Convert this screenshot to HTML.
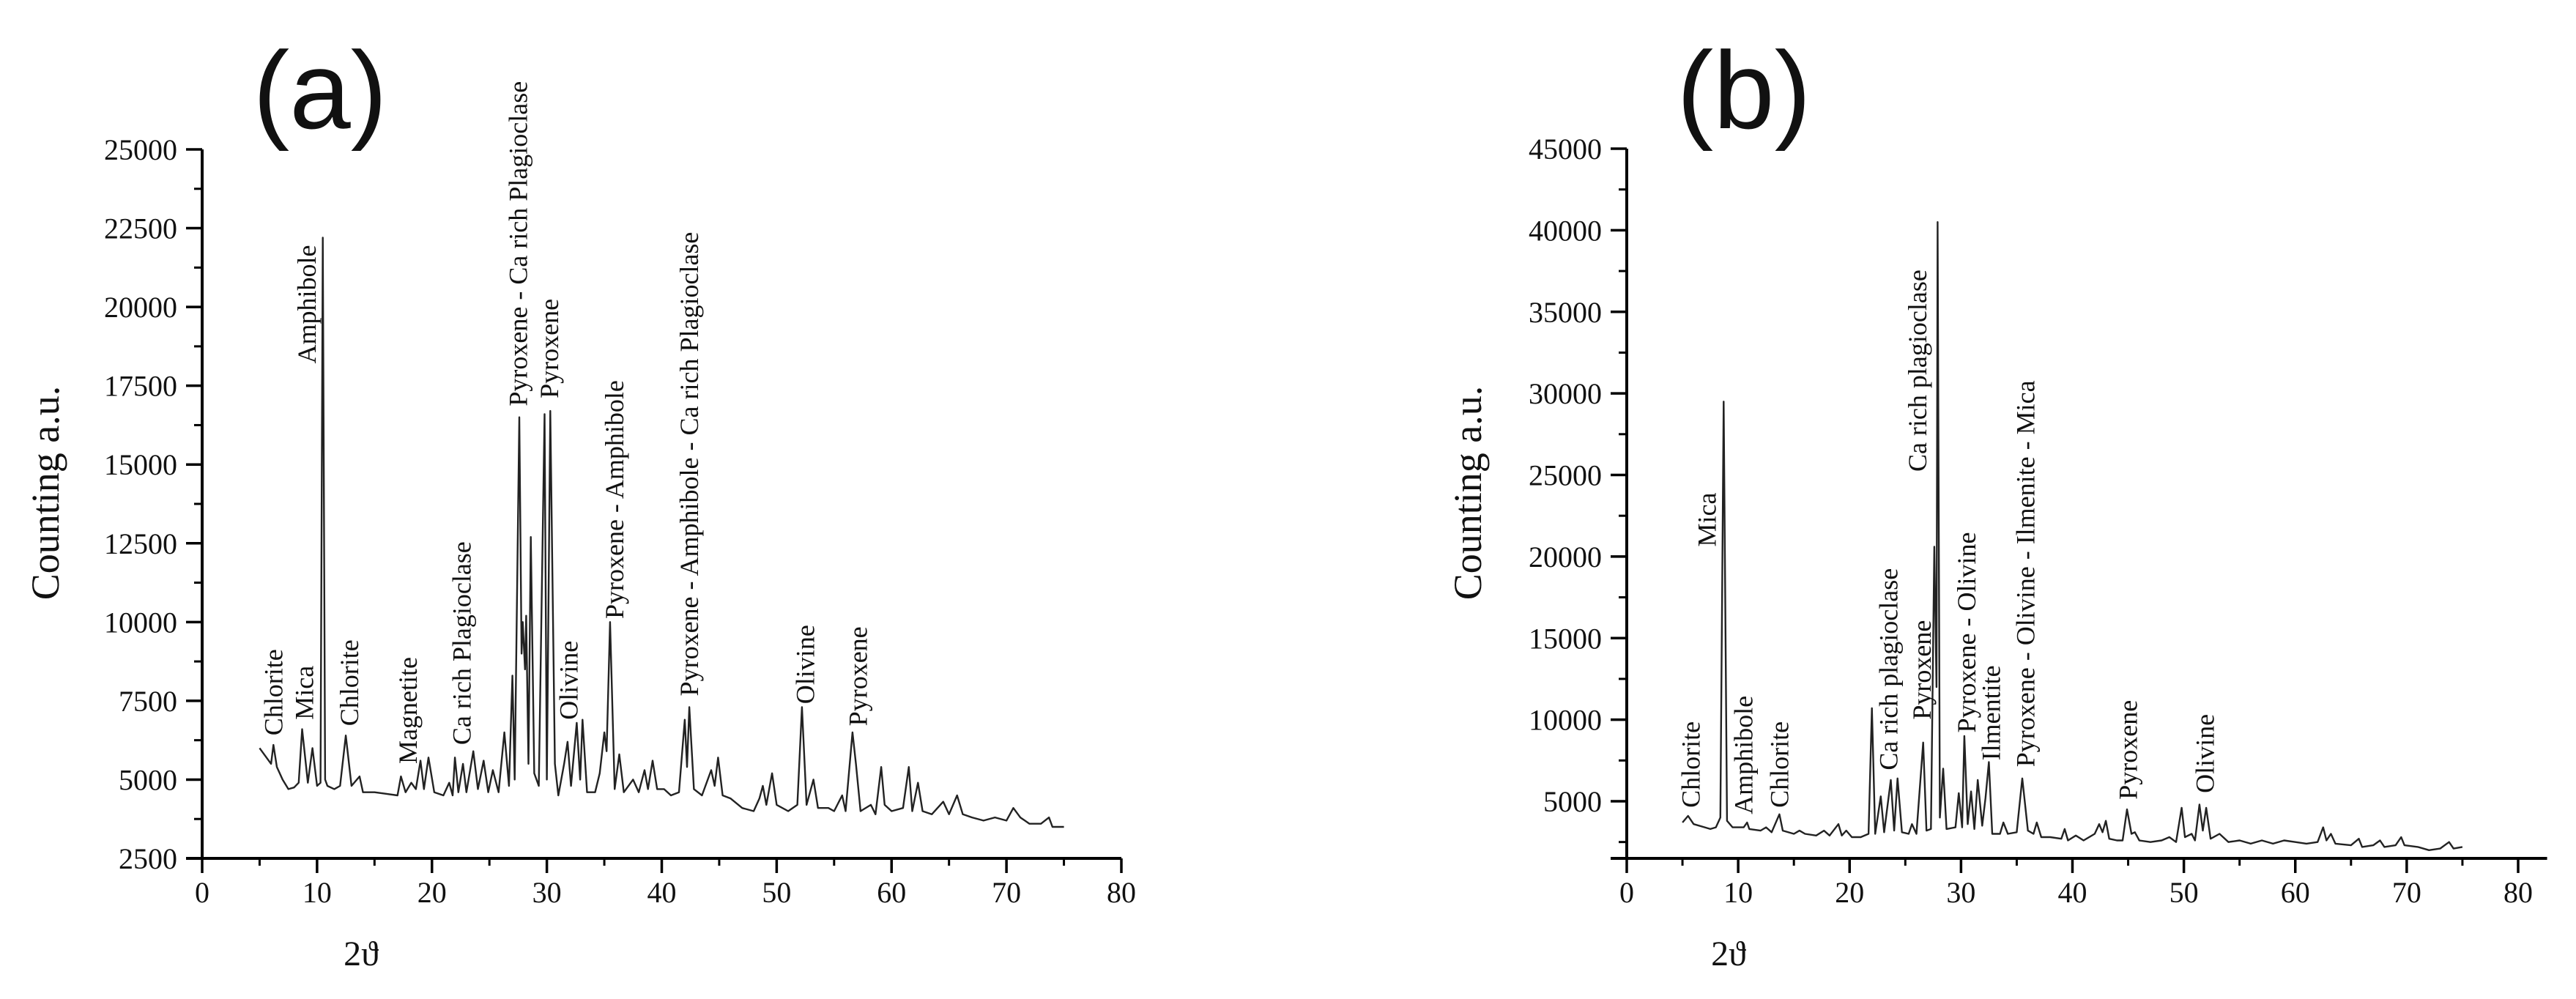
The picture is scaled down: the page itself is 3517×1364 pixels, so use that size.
<!DOCTYPE html>
<html><head><meta charset="utf-8">
<style>
html,body{margin:0;padding:0;background:#fff;}
svg{display:block;}
text{font-family:"Liberation Serif",serif;fill:#111;}
</style></head>
<body>
<svg id="chart" width="3517" height="1364" viewBox="0 0 3517 1364" xmlns="http://www.w3.org/2000/svg">
<text x="437" y="175" text-anchor="middle" style="font-family:'Liberation Sans',sans-serif;font-size:150px;">(a)</text>
<text x="2381" y="175" text-anchor="middle" style="font-family:'Liberation Sans',sans-serif;font-size:150px;">(b)</text>
</svg>
<script>
// Panel (a) data
const aTheta = [5,6,6.2,6.5,7,7.5,8,8.4,8.7,9.2,9.6,10,10.3,10.5,10.7,10.9,11.5,12,12.5,13,13.7,14,15,16,17,17.3,17.7,18.2,18.6,19,19.3,19.7,20.2,21,21.5,21.8,22,22.3,22.7,23,23.6,24,24.5,24.9,25.3,25.8,26.3,26.7,27,27.2,27.6,27.8,27.9,28.1,28.2,28.4,28.6,28.9,29.3,29.8,30,30.3,30.7,31,31.5,31.8,32.1,32.6,32.9,33.1,33.5,34.2,34.6,35,35.2,35.5,35.9,36.3,36.7,37.5,38,38.5,38.8,39.2,39.6,40.2,40.8,41.5,42,42.2,42.4,42.8,43.5,44.3,44.6,44.9,45.3,46,47,48,48.5,48.8,49.1,49.6,50,51,51.8,52.2,52.6,53.2,53.6,54.5,55,55.7,56,56.6,56.9,57.3,58.2,58.6,59.1,59.4,60,61,61.5,61.8,62.3,62.7,63.5,64.5,65,65.7,66.2,67,68,69,70,70.6,71.2,72,73,73.7,74,75];
const aCounts = [6000,5500,6100,5400,5000,4700,4750,4900,6600,4900,6000,4800,4900,22200,5000,4800,4700,4800,6400,4800,5100,4600,4600,4550,4500,5100,4600,4900,4700,5600,4700,5700,4600,4500,4900,4500,5700,4600,5500,4600,5900,4700,5600,4600,5300,4600,6500,4800,8300,5000,16500,9000,10000,8500,10200,5500,12700,5200,4800,16600,5000,16700,5500,4500,5500,6200,4800,6800,5000,6900,4600,4600,5200,6500,5900,10000,4700,5800,4600,5000,4600,5300,4700,5600,4700,4700,4500,4600,6900,5400,7300,4700,4500,5300,4800,5700,4500,4400,4100,4000,4400,4800,4200,5200,4200,4000,4200,7300,4200,5000,4100,4100,4000,4500,4000,6500,5500,4000,4200,3900,5400,4200,4000,4100,5400,4000,4900,4000,3900,4300,3900,4500,3900,3800,3700,3800,3700,4100,3800,3600,3600,3800,3500,3500];
const aLabels = ["Chlorite","Mica","Amphibole","Chlorite","Magnetite","Ca rich Plagioclase","Pyroxene - Ca rich Plagioclase","Pyroxene","Olivine","Pyroxene - Amphibole","Pyroxene - Amphibole - Ca rich Plagioclase","Olivine","Pyroxene"];
const aLabelTheta = [6.2,8.9,9.1,12.8,17.9,22.6,27.5,30.2,31.9,35.9,42.4,52.5,57.1];
const aLabelCount = [6400,6900,18200,6700,5500,6100,16850,17100,6900,10100,7650,7400,6700];
const aYTicks = ["2500","5000","7500","10000","12500","15000","17500","20000","22500","25000"];
const aXTicks = ["0","10","20","30","40","50","60","70","80"];

// Panel (b) data
const bTheta = [5,5.5,6,7,7.5,8,8.4,8.7,9,9.5,10.5,10.8,11,12,12.5,13,13.7,14,15,15.5,16,17,17.7,18.2,19,19.3,19.7,20.2,21,21.7,22,22.3,22.8,23.1,23.7,24,24.3,24.7,25.3,25.6,26,26.6,26.9,27.3,27.6,27.8,27.9,28.1,28.4,28.7,29.5,29.8,30.1,30.3,30.6,30.9,31.2,31.5,31.9,32.2,32.5,32.8,33.5,33.8,34.2,35,35.5,36,36.5,36.8,37.2,38,39,39.3,39.6,40.3,41,42,42.4,42.7,43,43.3,44,44.5,44.9,45.3,45.6,46,47,48,48.7,49.3,49.8,50.1,50.7,51,51.4,51.7,52,52.4,53.2,54,55,56,57,58,59,60,61,62,62.5,62.8,63.2,63.6,65,65.7,66,67,67.6,68,69,69.5,69.8,71,72,73,73.8,74.2,75];
const bCounts = [3700,4100,3600,3400,3300,3400,4000,29500,3800,3400,3400,3700,3300,3200,3400,3100,4200,3200,3000,3200,3000,2900,3200,2900,3600,2900,3200,2800,2800,3000,10700,3000,5300,3100,6300,3200,6400,3100,3000,3600,3000,8600,3200,3300,20600,12000,40500,4000,7000,3300,3400,5500,3400,9000,3600,5600,3300,6300,3500,5200,7400,3000,3000,3700,3000,3100,6400,3200,3000,3700,2800,2800,2700,3300,2600,2900,2600,3000,3600,3100,3800,2700,2600,2600,4500,3000,3100,2600,2500,2600,2800,2500,4600,2800,3000,2600,4800,3200,4600,2700,3000,2500,2600,2400,2600,2400,2600,2500,2400,2500,3400,2600,3000,2400,2300,2700,2200,2300,2600,2200,2300,2800,2300,2200,2000,2100,2500,2100,2200];
const bLabels = ["Chlorite","Mica","Amphibole","Chlorite","Ca rich plagioclase","Pyroxene","Ca rich plagioclase","Pyroxene - Olivine","Ilmentite","Pyroxene - Olivine - Ilmenite - Mica","Pyroxene","Olivine"];
const bLabelTheta = [5.75,7.2,10.5,13.7,23.5,26.5,26.1,30.5,32.7,35.8,45.0,51.9];
const bLabelCount = [4600,20600,4200,4600,6900,10000,25200,9200,7500,7100,5100,5500];
const bYTicks = ["5000","10000","15000","20000","25000","30000","35000","40000","45000"];
const bXTicks = ["0","10","20","30","40","50","60","70","80"];

const NS = "http://www.w3.org/2000/svg";
const svg = document.getElementById('chart');
function mk(tag, attrs, parent){
  const e = document.createElementNS(NS, tag);
  for (const k in attrs) e.setAttribute(k, attrs[k]);
  (parent||svg).appendChild(e);
  return e;
}

function panel(cfg){
  const g = mk('g', {});
  
  
  const sx = v => cfg.x0 + (v - cfg.xmin) / (cfg.xmax - cfg.xmin) * (cfg.x1 - cfg.x0);
  const sy = v => cfg.yBot - (v - cfg.ymin) / (cfg.ymax - cfg.ymin) * (cfg.yBot - cfg.yTop);
  const axBottom = cfg.axisYmin;
  const yAxis = mk('line', {x1:cfg.x0, x2:cfg.x0, y1:sy(axBottom)+1.5, y2:sy(cfg.ymax), stroke:'#000','stroke-width':4}, g);
  
  
  const xAxis = mk('line', {x1:cfg.x0-22, x2:sx(cfg.xAxisEnd), y1:sy(axBottom), y2:sy(axBottom), stroke:'#000','stroke-width':4}, g);
  
  
  cfg.yTicks.forEach(t => {
    const v = parseFloat(t), y = sy(v);
    mk('line', {x1:cfg.x0-22, x2:cfg.x0, y1:y, y2:y, stroke:'#000','stroke-width':3.5}, g);
    const tx = mk('text', {x:cfg.x0-34, y:y+14, 'text-anchor':'end', 'font-size':40}, g);
    tx.textContent = t;
    
    
  });
  for (let v = cfg.yMinorStart; v < cfg.ymax; v += cfg.yMinorStep) {
    const y = sy(v);
    mk('line', {x1:cfg.x0-11, x2:cfg.x0, y1:y, y2:y, stroke:'#000','stroke-width':3}, g);
  }
  const yb = sy(axBottom);
  cfg.xTicks.forEach(t => {
    const v = parseFloat(t), x = sx(v);
    mk('line', {x1:x, x2:x, y1:yb, y2:yb+20, stroke:'#000','stroke-width':3.5}, g);
    const tx = mk('text', {x:x, y:yb+60, 'text-anchor':'middle', 'font-size':40}, g);
    tx.textContent = t;
    
    
  });
  for (let v = 5; v < 80; v += 10) {
    const x = sx(v);
    mk('line', {x1:x, x2:x, y1:yb, y2:yb+10, stroke:'#000','stroke-width':3}, g);
  }
  let d = '';
  cfg.theta.forEach((t,i) => { d += (i ? 'L' : 'M') + sx(t).toFixed(1) + ',' + sy(cfg.counts[i]).toFixed(1); });
  const p = mk('path', {d:d, fill:'none', stroke:'#222', 'stroke-width':2.4, 'stroke-linejoin':'round'}, g);
  
  
  cfg.labels.forEach((l,i) => {
    const x = sx(cfg.labelTheta[i]) + 12, y = sy(cfg.labelCount[i]);
    const tx = mk('text', {x:x, y:y, 'font-size':36, transform:'rotate(-90 ' + x + ' ' + y + ')'}, g);
    tx.textContent = l;
    
    
  });
  const yt = mk('text', {x:cfg.yTitleX, y:673, 'text-anchor':'middle', 'font-size':54, transform:'rotate(-90 ' + cfg.yTitleX + ' 673)'}, g);
  yt.textContent = 'Counting a.u.';
  
  
  const xt = mk('text', {x:cfg.xTitleX, y:1318, 'text-anchor':'middle', 'font-size':48}, g);
  xt.textContent = '2ϑ';
  
  
}

panel({name:'panel-a-chart', x0:276, x1:1531, xmin:0, xmax:80, xAxisEnd:80,
  yTop:204, yBot:1172, ymin:2500, ymax:25000, axisYmin:2500,
  yMinorStart:3750, yMinorStep:2500,
  yTicks:aYTicks, xTicks:aXTicks, theta:aTheta, counts:aCounts,
  labels:aLabels, labelTheta:aLabelTheta, labelCount:aLabelCount,
  yTitleX:80, xTitleX:493});

panel({name:'panel-b-chart', x0:2221, x1:3438, xmin:0, xmax:80, xAxisEnd:82.6,
  yTop:203, yBot:1094, ymin:5000, ymax:45000, axisYmin:1500,
  yMinorStart:2500, yMinorStep:5000,
  yTicks:bYTicks, xTicks:bXTicks, theta:bTheta, counts:bCounts,
  labels:bLabels, labelTheta:bLabelTheta, labelCount:bLabelCount,
  yTitleX:2022, xTitleX:2360});
</script>
</body></html>
